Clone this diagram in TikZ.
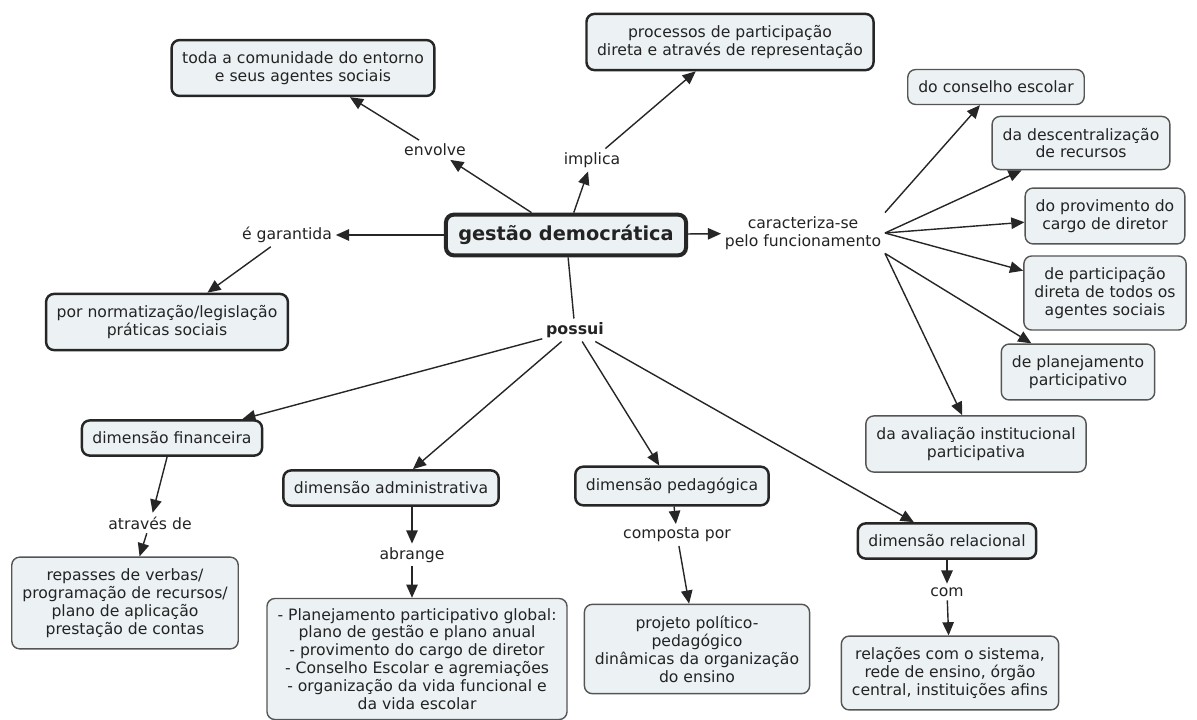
\documentclass[tikz,border=0pt]{standalone}
\usepackage{fontspec}
\setmainfont{DejaVu Sans}
\usetikzlibrary{arrows.meta}
\definecolor{fundo}{RGB}{236,242,244}
\definecolor{borda}{RGB}{85,85,85}
\definecolor{texto}{RGB}{35,35,35}

\begin{document}
\begin{tikzpicture}[x=0.02cm,y=-0.02cm,
  font=\fontsize{8.9}{10.2}\selectfont, text=texto,
  conceito/.style={draw=black!85, line width=1.4pt, fill=fundo, rounded corners=4.5pt,
    align=center, inner xsep=6pt, inner ysep=6.5pt},
  folha/.style={conceito, draw=borda, line width=0.8pt},
  principal/.style={conceito, line width=2.3pt, inner xsep=7pt, inner ysep=6pt,
    font=\fontsize{11}{13}\selectfont\bfseries},
  ligacao/.style={align=center, inner sep=2pt},
  seta/.style={-{Triangle[length=7.5pt,width=6.5pt]}, line width=0.8pt, draw=black!85}]

  \useasboundingbox (0,0) rectangle (1197,720);

  % Conceito central
  \node[principal] (gd) at (566,235) {gestão democrática};

  % Topo
  \node[conceito] (comun) at (303,68) {toda a comunidade do entorno\\ e seus agentes sociais};
  \node[conceito] (proc) at (730,42) {processos de participação\\ direta e através de representação};
  \node[ligacao] (env) at (435,150) {envolve};
  \node[ligacao] (impl) at (592,160) {implica};

  % Esquerda
  \node[ligacao] (gar) at (287,235) {é garantida};
  \node[conceito] (norm) at (167,322) {por normatização/legislação\\ práticas sociais};

  % Direita
  \node[ligacao] (car) at (803,233) {caracteriza-se\\ pelo funcionamento};
  \node[folha] (cons) at (996,87) {do conselho escolar};
  \node[folha] (desc) at (1081,143) {da descentralização\\ de recursos};
  \node[folha] (prov) at (1105,216) {do provimento do\\ cargo de diretor};
  \node[folha] (part) at (1105,293) {de participação\\ direta de todos os\\ agentes sociais};
  \node[folha] (plan) at (1078,372) {de planejamento\\ participativo};
  \node[folha] (aval) at (976,444) {da avaliação institucional\\ participativa};

  % Dimensões
  \node[ligacao, font=\fontsize{9}{11}\selectfont\bfseries] (pos) at (575,330) {possui};
  \node[conceito] (fin) at (172,438) {dimensão financeira};
  \node[conceito] (adm) at (391,488) {dimensão administrativa};
  \node[conceito] (ped) at (672,486) {dimensão pedagógica};
  \node[conceito] (rel) at (947,541) {dimensão relacional};

  \node[ligacao] (atr) at (150,523) {através de};
  \node[ligacao] (abr) at (412,555) {abrange};
  \node[ligacao] (comp) at (677,535) {composta por};
  \node[ligacao] (com) at (947,592) {com};

  \node[folha] (rep) at (125,603) {repasses de verbas/\\ programação de recursos/\\ plano de aplicação\\ prestação de contas};
  \node[folha, inner ysep=5.5pt] (pla) at (417,659) {- Planejamento participativo global:\\ plano de gestão e plano anual\\ - provimento do cargo de diretor\\ - Conselho Escolar e agremiações\\ - organização da vida funcional e\\ da vida escolar};
  \node[folha] (proj) at (697,649) {projeto político-\\ pedagógico\\ dinâmicas da organização\\ do ensino};
  \node[folha] (relac) at (950,673) {relações com o sistema,\\ rede de ensino, órgão\\ central, instituições afins};

  % Setas
  \draw[seta] (gd) -- (env);
  \draw[seta] (env) -- (comun);
  \draw[seta] (gd) -- (impl);
  \draw[seta] (impl) -- (proc);
  \draw[seta] (gd) -- (gar);
  \draw[seta] (gar) -- (norm);
  \draw[seta] (gd) -- (car);
  \draw[seta] (car.north east) -- (cons);
  \foreach \d in {desc,prov,part} \draw[seta] (car.east) -- (\d);
  \foreach \d in {plan,aval} \draw[seta] (car.south east) -- (\d);
  \draw[line width=0.8pt, draw=black!85] (gd) -- (pos);
  \foreach \d in {fin,adm,ped,rel} \draw[seta] (pos) -- (\d);
  \draw[seta] (fin) -- (atr);
  \draw[seta] (atr) -- (rep);
  \draw[seta] (abr |- adm.south) -- (abr);
  \draw[seta] (abr) -- (abr |- pla.north);
  \draw[seta] (ped) -- (comp);
  \draw[seta] (comp) -- (proj);
  \draw[seta] (rel) -- (com);
  \draw[seta] (com) -- (relac);
\end{tikzpicture}
\end{document}
